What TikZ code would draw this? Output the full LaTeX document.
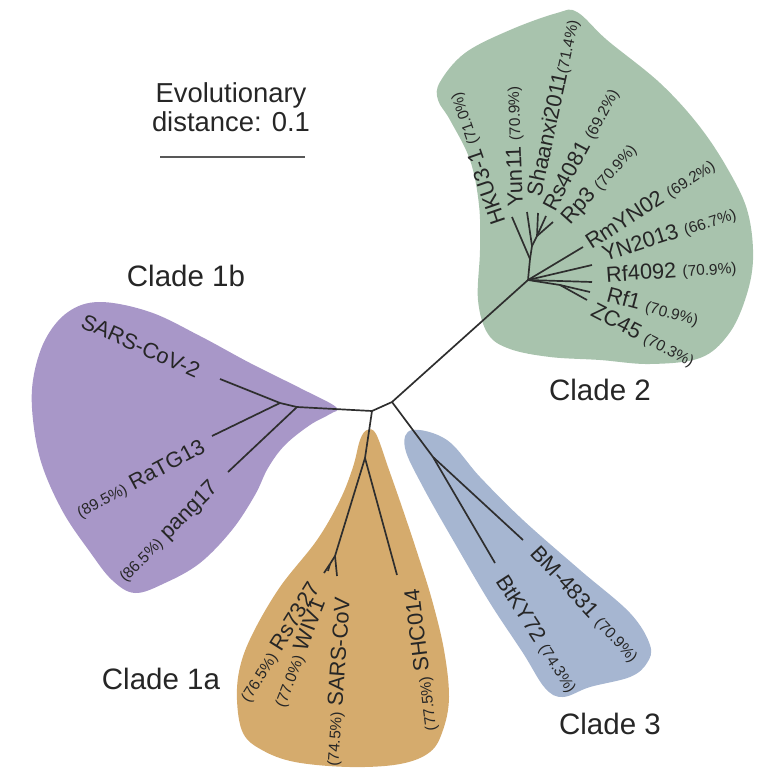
\documentclass[tikz,border=0pt]{standalone}
\usepackage{fontspec}
\setmainfont{Liberation Sans}

\definecolor{cladeOneA}{HTML}{D5AB6D}
\definecolor{cladeOneB}{HTML}{A897C8}
\definecolor{cladeTwo}{HTML}{A8C3AD}
\definecolor{cladeThree}{HTML}{A6B6D1}
\definecolor{txtgray}{HTML}{262626}
\definecolor{linegray}{HTML}{2E2E2E}

\newcommand{\simval}[1]{{\fontsize{11}{13}\selectfont(#1\%)}}

\begin{document}
\begin{tikzpicture}[x=0.25mm, y=-0.25mm,
    branch/.style={draw=linegray, line width=1.2pt},
    leaf/.style={text=txtgray, font=\fontsize{15.5}{18}\selectfont, inner sep=0pt},
    cladename/.style={text=txtgray, font=\fontsize{21}{24}\selectfont, inner sep=0pt}]
    \useasboundingbox (0,0) rectangle (757,768);

    % clade areas
    \fill[cladeTwo] plot[smooth cycle, tension=0.6] coordinates {
        (440,82) (465,53) (510,30) (557,13) (577,12) (607,40) (660,83)
        (700,127) (730,173) (748,213) (753,260) (745,300) (728,335)
        (700,358) (650,364) (600,360) (550,357) (510,349) (488,334)
        (478,300) (480,250) (479,205) (470,160) (450,120) (438,100)};
    \fill[cladeOneB] plot[smooth cycle, tension=0.6] coordinates {
        (336,407) (300,388) (250,363) (200,336) (150,312) (100,302)
        (68,312) (45,340) (33,380) (33,420) (42,465) (63,512) (90,552)
        (112,580) (135,593) (165,583) (200,563) (232,530) (255,495)
        (268,468) (285,445) (310,425) (330,414)};
    \fill[cladeOneA] plot[smooth cycle, tension=0.6] coordinates {
        (367,430) (376,434) (388,467) (403,510) (418,555) (432,600)
        (444,650) (449,697) (443,730) (430,752) (400,764) (350,767)
        (295,762) (262,750) (243,733) (237,700) (240,667) (253,633)
        (280,587) (317,540) (340,500) (353,467) (360,440)};
    \fill[cladeThree] plot[smooth cycle, tension=0.6] coordinates {
        (412,430) (447,440) (480,477) (523,520) (580,570) (630,613)
        (650,645) (647,663) (630,677) (590,687) (563,697) (545,688)
        (523,653) (490,603) (457,547) (423,487) (405,448)};

    % scale bar
    \node[leaf, font=\fontsize{19.5}{20.8}\selectfont, align=center] (evo) at (231,107) {Evolutionary\\distance: 0.1};
    \coordinate (barL) at (160,157);
    \coordinate (barR) at (305,157);
    \draw[draw=linegray!80, line width=1.3pt] (barL) -- (barR);

    % inner nodes
    \coordinate (r1) at (372,411);
    \coordinate (r2) at (392,402);
    \coordinate (b1) at (297,407);
    \coordinate (b2) at (280,403);
    \coordinate (a1) at (365,458);
    \coordinate (a2) at (335,556);
    \coordinate (a3) at (330,564);
    \coordinate (c1) at (433,457);
    \coordinate (g1) at (528,280);
    \coordinate (g2) at (530,259);
    \coordinate (g3) at (532,246);
    \coordinate (g5) at (537,236);
    \coordinate (g4) at (560,285);

    % tips
    \coordinate (sars2) at (220,379);
    \coordinate (ratg) at (212,436);
    \coordinate (pang) at (228,472);
    \coordinate (rs7327) at (324,573);
    \coordinate (wiv) at (328,571);
    \coordinate (sarscov) at (337,576);
    \coordinate (shc) at (397,575);
    \coordinate (bm) at (523,540);
    \coordinate (blky) at (495,563);
    \coordinate (hku) at (512,217);
    \coordinate (yun) at (527,212);
    \coordinate (shaanxi) at (538,213);
    \coordinate (rs4081) at (546,216);
    \coordinate (rp3) at (553,222);
    \coordinate (rmyn) at (583,247);
    \coordinate (yn2013) at (592,265);
    \coordinate (rf4092) at (592,282);
    \coordinate (rf1) at (590,292);
    \coordinate (zc45) at (587,300);

    % branches
    \draw[branch] (r1) -- (r2);
    \draw[branch] (r1) -- (b1);
    \draw[branch] (b1) -- (b2);
    \draw[branch] (b2) -- (sars2);
    \draw[branch] (b2) -- (ratg);
    \draw[branch] (b1) -- (pang);
    \draw[branch] (r1) -- (a1);
    \draw[branch] (a1) -- (a2);
    \draw[branch] (a2) -- (a3);
    \draw[branch] (a3) -- (rs7327);
    \draw[branch] (a3) -- (wiv);
    \draw[branch] (a2) -- (sarscov);
    \draw[branch] (a1) -- (shc);
    \draw[branch] (r2) -- (c1);
    \draw[branch] (c1) -- (bm);
    \draw[branch] (c1) -- (blky);
    \draw[branch] (r2) -- (g1);
    \draw[branch] (g1) -- (g2);
    \draw[branch] (g2) -- (hku);
    \draw[branch] (g2) -- (g3);
    \draw[branch] (g3) -- (yun);
    \draw[branch] (g3) -- (g5);
    \draw[branch] (g5) -- (shaanxi);
    \draw[branch] (g5) -- (rs4081);
    \draw[branch] (g5) -- (rp3);
    \draw[branch] (g1) -- (rmyn);
    \draw[branch] (g1) -- (yn2013);
    \draw[branch] (g1) -- (rf4092);
    \draw[branch] (g1) -- (g4);
    \draw[branch] (g4) -- (rf1);
    \draw[branch] (g4) -- (zc45);

    % clade 1b labels
    \node[leaf, rotate=-24, anchor=east] (lsars2) at (199,372) {SARS-CoV-2};
    \node[leaf, rotate=28, anchor=east] (lratg) at (204,446) {\simval{89.5} RaTG13};
    \node[leaf, rotate=45, anchor=east] (lpang) at (216,485) {\simval{86.5} pang17};

    % clade 1a labels
    \node[leaf, rotate=58, anchor=east] (lrs7327) at (316,585) {\simval{76.5} Rs7327};
    \node[leaf, rotate=69, anchor=east] (lwiv) at (320,600) {\simval{77.0} WIV1};
    \node[leaf, rotate=86, anchor=east] (lsarscov) at (344,597) {\simval{74.5} SARS-CoV};
    \node[leaf, rotate=97, anchor=east] (lshc) at (413,589) {\simval{77.5} SHC014};

    % clade 3 labels
    \node[leaf, rotate=-47, anchor=west] (lbm) at (534,550) {BM-4831 \simval{70.9}};
    \node[leaf, rotate=-57, anchor=west] (lblky) at (500,578) {BtKY72 \simval{74.3}};

    % clade 2 labels
    \node[leaf, rotate=109, anchor=west] (lhku) at (500,224) {HKU3-1 \simval{71.0}};
    \node[leaf, rotate=92, anchor=west] (lyun) at (517,207) {Yun11 \simval{70.9}};
    \node[leaf, rotate=78, anchor=west] (lshaanxi) at (535,196) {Shaanxi2011\simval{71.4}};
    \node[leaf, rotate=62, anchor=west] (lrs4081) at (550,210) {Rs4081 \simval{69.2}};
    \node[leaf, rotate=48, anchor=west] (lrp3) at (566,222) {Rp3 \simval{70.9}};
    \node[leaf, rotate=33, anchor=west] (lrmyn) at (588,245) {RmYN02 \simval{69.2}};
    \node[leaf, rotate=18, anchor=west] (lyn2013) at (603,256) {YN2013 \simval{66.7}};
    \node[leaf, rotate=4, anchor=west] (lrf4092) at (606,276) {Rf4092 \simval{70.9}};
    \node[leaf, rotate=-15, anchor=west] (lrf1) at (607,295) {Rf1 \simval{70.9}};
    \node[leaf, rotate=-27, anchor=west] (lzc45) at (592,310) {ZC45 \simval{70.3}};

    % clade names
    \node[cladename] (n1b) at (186,276) {Clade 1b};
    \node[cladename] (n2) at (600,390) {Clade 2};
    \node[cladename] (n1a) at (161,679) {Clade 1a};
    \node[cladename] (n3) at (610,724) {Clade 3};
\end{tikzpicture}
\end{document}
